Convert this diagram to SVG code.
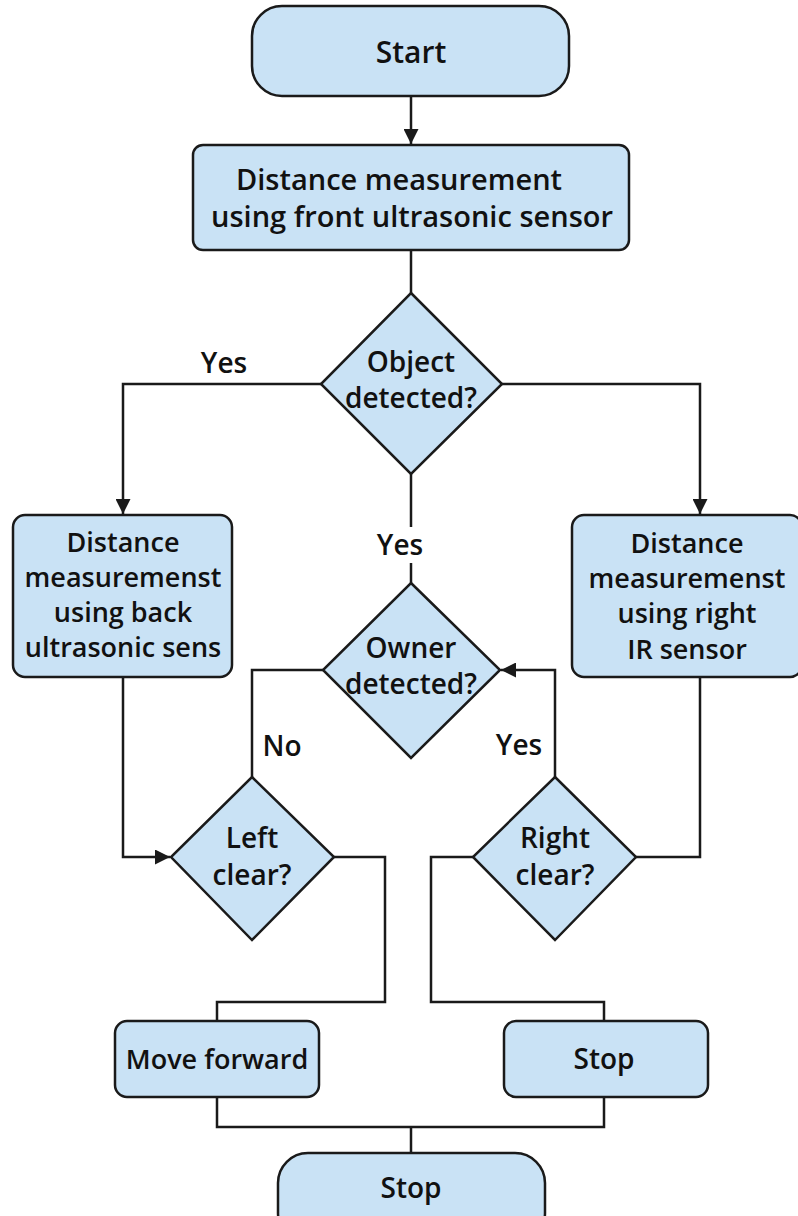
<svg xmlns="http://www.w3.org/2000/svg" width="798" height="1216" viewBox="0 0 798 1216">
<defs>
<style>
.n{fill:#c9e2f5;stroke:#1a1a1a;stroke-width:2.5}
.c{fill:none;stroke:#1a1a1a;stroke-width:2.5}
text{font-family:"Open Sans","Liberation Sans",sans-serif;font-weight:600;font-size:28px;fill:#111;text-anchor:middle}
.s{font-size:27px}
</style>
<marker id="ah" viewBox="0 0 10 10" refX="10" refY="5" markerWidth="6" markerHeight="6" markerUnits="strokeWidth" orient="auto">
<path d="M0,0 L10,5 L0,10 z" fill="#1a1a1a"/>
</marker>
</defs>
<rect width="798" height="1216" fill="#fff"/>
<g id="connectors">
<path class="c" d="M411,96 V144" marker-end="url(#ah)"/>
<path class="c" d="M411,250 V293"/>
<path class="c" d="M321,384 H123 V514" marker-end="url(#ah)"/>
<path class="c" d="M502,384 H700 V514" marker-end="url(#ah)"/>
<path class="c" d="M411,474 V527"/>
<path class="c" d="M411,563 V583"/>
<path class="c" d="M323,670 H252 V777"/>
<path class="c" d="M123,677 V857 H170" marker-end="url(#ah)"/>
<path class="c" d="M700,677 V857 H636"/>
<path class="c" d="M555,777 V670 H501" marker-end="url(#ah)"/>
<path class="c" d="M334,857 H385 V1002 H217 V1021"/>
<path class="c" d="M473,857 H431 V1002 H604 V1021"/>
<path class="c" d="M217,1097 V1127 H604 V1097"/>
<path class="c" d="M411,1127 V1153"/>
<text x="224" y="373">Yes</text>
<text x="400" y="555">Yes</text>
<text x="282" y="756">No</text>
<text x="519" y="755">Yes</text>
</g>
<g id="start">
<rect class="n" x="252" y="6" width="317" height="90" rx="30"/>
<text x="411" y="63" style="font-size:30px">Start</text>
</g>
<g id="front">
<rect class="n" x="193" y="145" width="436" height="105" rx="10"/>
<text x="399" y="190" style="font-size:29px">Distance measurement</text>
<text x="412" y="227" style="font-size:29px">using front ultrasonic sensor</text>
</g>
<g id="object">
<polygon class="n" points="411,293 502,384 411,474 321,384"/>
<text x="411" y="372">Object</text>
<text x="411" y="408">detected?</text>
</g>
<g id="back">
<rect class="n" x="13" y="515" width="219" height="162" rx="12"/>
<text class="s" x="123" y="552">Distance</text>
<text class="s" x="123" y="587">measuremenst</text>
<text class="s" x="123" y="622">using back</text>
<text class="s" x="123" y="657">ultrasonic sens</text>
</g>
<g id="right">
<rect class="n" x="572" y="515" width="230" height="162" rx="12"/>
<text class="s" x="687" y="553">Distance</text>
<text class="s" x="687" y="588">measuremenst</text>
<text class="s" x="687" y="623">using right</text>
<text class="s" x="687" y="659">IR sensor</text>
</g>
<g id="owner">
<polygon class="n" points="411,583 500,670 411,758 323,670"/>
<text x="411" y="658">Owner</text>
<text x="411" y="694">detected?</text>
</g>
<g id="leftclear">
<polygon class="n" points="252,777 334,857 252,940 171,857"/>
<text x="252" y="848">Left</text>
<text x="252" y="885">clear?</text>
</g>
<g id="rightclear">
<polygon class="n" points="555,777 636,857 555,940 473,857"/>
<text x="555" y="848">Right</text>
<text x="555" y="885">clear?</text>
</g>
<g id="forward">
<rect class="n" x="115" y="1021" width="204" height="76" rx="12"/>
<text class="s" x="217" y="1069">Move forward</text>
</g>
<g id="stop1">
<rect class="n" x="504" y="1021" width="204" height="76" rx="12"/>
<text x="604" y="1069">Stop</text>
</g>
<g id="stop2">
<rect class="n" x="278" y="1153" width="267" height="90" rx="30"/>
<text x="411" y="1198">Stop</text>
</g>
</svg>
